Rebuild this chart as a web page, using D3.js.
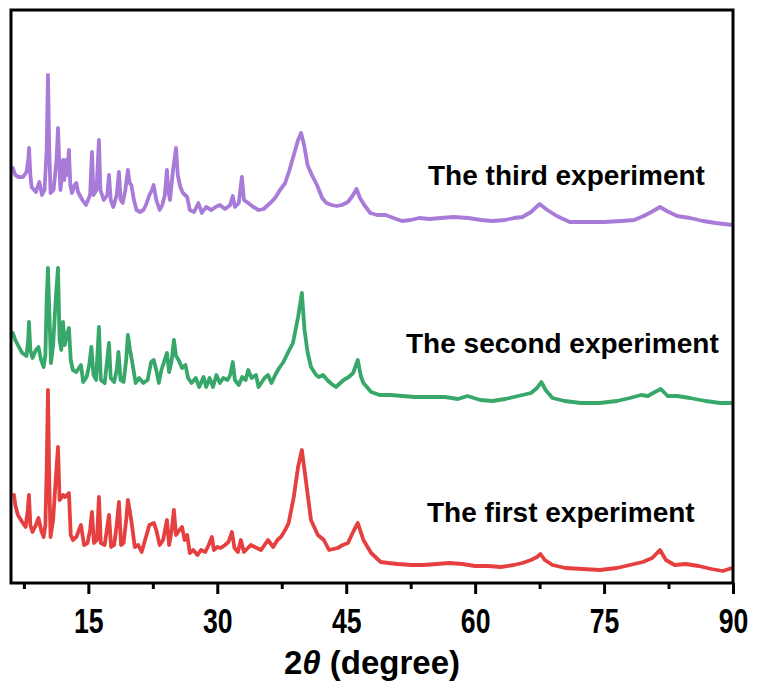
<!DOCTYPE html>
<html>
<head>
<meta charset="utf-8">
<script src="https://cdn.jsdelivr.net/npm/d3@7"></script>
<style>
  html, body { margin: 0; padding: 0; background: #fff; }
  svg { display: block; font-family: "Liberation Sans", Arial, sans-serif; }
</style>
</head>
<body>
<div id="chart"></div>
<script>
// 2theta (deg), intensity (a.u., offsets already applied)
const thirdExp = [
  [6.2,416],[6.5,409],[6.9,407],[7.4,407],[7.8,412],[8.0,424],[8.1,436],[8.25,409],[8.4,397],[8.9,392],
  [9.3,402],[9.6,389],[9.9,394],[10.15,434],[10.3,509],[10.45,434],[10.6,391],[10.95,394],[11.3,424],[11.47,456],
  [11.6,424],[11.75,394],[11.95,409],[12.05,424],[12.2,404],[12.4,424],[12.55,409],[12.74,434],[12.9,399],[13.1,391],
  [13.4,399],[13.6,401],[13.8,392],[14.3,384],[14.72,379],[15.2,389],[15.42,432],[15.6,389],[15.95,394],[16.23,444],
  [16.4,394],[16.8,384],[17.2,389],[17.4,409],[17.6,384],[17.9,377],[18.3,389],[18.56,412],[18.75,384],[19.0,381],
  [19.3,394],[19.6,414],[19.8,401],[20.0,399],[20.3,384],[20.6,374],[21.0,372],[21.4,374],[21.7,379],[22.1,389],
  [22.4,394],[22.6,399],[22.9,384],[23.3,374],[23.6,379],[23.9,389],[24.14,414],[24.3,394],[24.5,384],[24.85,414],
  [25.2,436],[25.4,409],[25.7,397],[26.0,391],[26.5,387],[26.8,374],[27.3,372],[27.8,381],[28.2,371],[28.7,377],
  [29.3,374],[29.8,377],[30.3,379],[30.9,375],[31.5,379],[31.8,388],[32.05,377],[32.5,381],[32.86,407],[33.1,384],
  [33.6,381],[34.2,377],[34.8,374],[35.4,375],[35.9,379],[36.3,382],[36.8,387],[37.3,394],[37.9,401],[38.4,414],
  [38.9,429],[39.4,444],[39.75,451],[40.1,439],[40.5,419],[41.0,409],[41.6,399],[42.2,386],[42.7,381],[43.3,379],
  [43.9,378],[44.5,379],[45.2,382],[45.8,389],[46.2,395],[46.6,386],[47.1,379],[47.8,371],[48.6,369],[49.6,369],
  [50.5,366],[51.5,363],[52.5,364],[53.5,366],[54.7,365],[56.0,366],[57.5,367],[59.2,366],[60.7,364],[62.0,363],
  [63.5,364],[64.5,366],[65.5,367],[66.5,372],[67.5,380],[68.4,374],[69.5,368],[71.0,362],[73.0,362],[75.0,362],
  [77.0,363],[78.5,364],[79.6,368],[80.5,372],[81.5,377],[82.3,373],[83.5,368],[85.0,366],[86.5,363],[88.0,361],
  [89.9,359]
];

const secondExp = [
  [6.2,251],[6.5,244],[6.8,239],[7.3,231],[7.8,228],[8.0,244],[8.09,262],[8.25,234],[8.5,226],[8.9,234],
  [9.2,237],[9.5,224],[9.8,217],[10.0,229],[10.15,284],[10.3,316],[10.45,274],[10.65,221],[10.9,239],[11.2,284],
  [11.47,316],[11.65,244],[11.85,234],[12.05,262],[12.25,239],[12.5,249],[12.74,256],[12.95,224],[13.2,214],[13.6,212],
  [13.9,216],[14.14,219],[14.4,202],[14.8,207],[15.1,219],[15.35,237],[15.6,209],[15.9,204],[16.23,257],[16.45,204],
  [16.9,201],[17.4,241],[17.6,206],[18.0,202],[18.3,214],[18.5,232],[18.75,204],[19.1,202],[19.4,224],[19.6,249],
  [19.85,234],[20.1,222],[20.5,201],[20.9,206],[21.4,201],[21.9,204],[22.3,222],[22.6,224],[22.9,214],[23.2,201],
  [23.5,214],[24.14,231],[24.4,212],[24.7,224],[24.95,244],[25.2,228],[25.5,224],[25.9,216],[26.3,219],[26.6,206],
  [27.0,201],[27.5,206],[27.9,197],[28.4,207],[28.7,197],[29.1,206],[29.5,197],[29.9,209],[30.3,201],[30.7,206],
  [31.2,204],[31.5,209],[31.8,222],[32.05,204],[32.5,199],[32.9,207],[33.3,204],[33.6,214],[34.0,206],[34.5,209],
  [34.8,197],[35.5,206],[35.9,209],[36.3,201],[36.8,210],[37.2,216],[37.7,222],[38.2,231],[38.8,241],[39.4,267],
  [39.84,291],[40.15,254],[40.5,232],[40.9,217],[41.5,209],[41.8,207],[42.3,209],[42.8,204],[43.3,200],[43.8,197],
  [44.7,204],[45.3,207],[45.8,211],[46.35,224],[46.7,208],[47.0,201],[47.9,192],[48.9,189],[50.2,189],[51.5,188],
  [53.0,187],[54.7,187],[56.5,187],[58.0,185],[59.1,188],[60.6,184],[62.0,183],[63.5,185],[64.5,187],[65.5,189],
  [66.5,191],[67.2,196],[67.7,202],[68.2,194],[69.0,186],[70.4,183],[72.3,181],[74.5,181],[76.5,183],[78.0,186],
  [79.3,189],[80.1,188],[80.7,191],[81.6,195],[82.4,188],[83.5,188],[85.0,186],[86.8,183],[88.5,181],[89.9,181]
];

const firstExp = [
  [6.35,89],[6.5,79],[6.8,69],[7.3,62],[7.7,57],[7.95,74],[8.09,89],[8.25,59],[8.5,52],[8.9,59],
  [9.2,66],[9.5,54],[9.8,47],[10.0,59],[10.15,114],[10.3,194],[10.45,104],[10.6,47],[10.9,64],[11.2,104],
  [11.47,137],[11.65,84],[11.85,86],[12.05,89],[12.3,87],[12.5,89],[12.74,91],[12.95,49],[13.2,44],[13.6,47],
  [14.14,59],[14.5,39],[14.9,41],[15.2,54],[15.42,72],[15.65,41],[16.0,44],[16.23,87],[16.45,41],[16.9,39],
  [17.4,69],[17.65,37],[18.0,39],[18.3,59],[18.56,82],[18.8,39],[19.1,41],[19.4,64],[19.6,84],[19.9,69],
  [20.1,57],[20.4,37],[20.8,39],[21.2,32],[21.6,44],[22.1,59],[22.63,61],[22.9,54],[23.3,39],[23.7,44],
  [24.14,64],[24.4,39],[24.7,54],[24.95,74],[25.2,49],[25.6,54],[25.9,57],[26.2,44],[26.5,49],[26.8,31],
  [27.2,34],[27.7,29],[28.1,34],[28.6,32],[29.0,39],[29.37,47],[29.6,34],[30.0,37],[30.4,36],[30.9,39],
  [31.3,42],[31.7,52],[32.0,36],[32.4,32],[32.74,44],[33.1,32],[33.9,39],[34.6,36],[35.1,34],[35.9,44],
  [36.5,37],[37.0,44],[37.4,47],[37.9,54],[38.3,61],[38.9,87],[39.4,117],[39.84,134],[40.3,104],[40.9,64],
  [41.7,49],[42.4,44],[43.0,34],[44.0,36],[44.6,39],[45.2,41],[45.8,52],[46.35,61],[47.0,44],[47.9,31],
  [49.0,22],[49.9,21],[51.0,20],[52.5,19],[54.0,19],[55.5,20],[57.0,21],[58.5,20],[60.0,18],[61.5,18],
  [63.0,17],[64.5,19],[65.5,21],[66.5,24],[67.2,27],[67.6,30],[68.1,24],[69.0,19],[70.5,16],[72.5,15],
  [74.5,14],[76.5,16],[78.0,19],[79.5,22],[80.6,26],[81.5,34],[82.2,24],[83.2,19],[84.5,20],[86.0,18],
  [87.5,15],[88.8,13],[89.9,16]
];

const seriesNames = ['The first experiment', 'The second experiment', 'The third experiment'];
const seriesColors = ['#e5403f', '#37a76a', '#a87bd9'];
const majorTicks = [15, 30, 45, 60, 75, 90];
const minorTicks = [7.5, 22.5, 37.5, 52.5, 67.5, 82.5];
const xDomain = [6, 90];
const yDomain = [0, 574];

class XrdChart {
  constructor(series) {
    this.series = series;
    this.width = 758;
    this.height = 686;
    this.plot = {left: 11, right: 733, top: 10, bottom: 583};
    // where the experiment names sit (left edge, baseline)
    this.labelPos = [[427, 522], [406, 353], [428, 185]];
  }

  draw() {
    this.svg = d3.select('#chart').append('svg')
        .attr('width', this.width)
        .attr('height', this.height);

    this.x = d3.scaleLinear().domain(xDomain).range([this.plot.left, this.plot.right]);
    this.y = d3.scaleLinear().domain(yDomain).range([584, 10]);

    this._drawLines();
    this._drawFrame();
    this._drawAxis();
    this._addLabels();
  }

  _drawLines() {
    let line = d3.line()
        .x(d => this.x(d[0]))
        .y(d => this.y(d[1]));

    this.svg.append('g')
        .selectAll('path')
        .data(this.series)
        .enter()
        .append('path')
        .attr('fill', 'none')
        .attr('stroke', (d, i) => seriesColors[i])
        .attr('stroke-width', 3.8)
        .attr('stroke-linejoin', 'round')
        .attr('stroke-linecap', 'round')
        .attr('d', d => line(d));
  }

  _drawFrame() {
    let p = this.plot;
    this.svg.append('rect')
        .attr('x', p.left)
        .attr('y', p.top)
        .attr('width', p.right - p.left)
        .attr('height', p.bottom - p.top)
        .attr('fill', 'none')
        .attr('stroke', '#000')
        .attr('stroke-width', 3);
  }

  _drawAxis() {
    let g = this.svg.append('g')
        .attr('transform', 'translate(0,' + this.plot.bottom + ')');

    let major = g.append('g')
        .call(d3.axisBottom(this.x).tickValues(majorTicks).tickSize(11).tickSizeOuter(0));
    let minor = g.append('g')
        .call(d3.axisBottom(this.x).tickValues(minorTicks).tickSize(6).tickSizeOuter(0).tickFormat(''));

    [major, minor].forEach(a => {
      a.select('.domain').remove();
      a.selectAll('line').attr('stroke', '#000').attr('stroke-width', 3);
    });

    major.selectAll('text')
        .attr('y', 50)
        .attr('dy', 0)
        .attr('fill', '#000')
        .attr('transform', 'scale(0.74,1)')
        .style('font-size', '36px')
        .style('font-weight', 'bold')
        .style('font-family', '"Liberation Sans", Arial, sans-serif');

    let title = this.svg.append('text')
        .attr('x', (this.plot.left + this.plot.right) / 2)
        .attr('y', 674)
        .attr('text-anchor', 'middle')
        .style('font-size', '33px')
        .style('font-weight', 'bold');
    title.append('tspan').text('2');
    title.append('tspan').style('font-style', 'italic').text('θ');
    title.append('tspan').text(' (degree)');
  }

  _addLabels() {
    this.svg.append('g')
        .selectAll('text')
        .data(seriesNames)
        .enter()
        .append('text')
        .attr('x', (d, i) => this.labelPos[i][0])
        .attr('y', (d, i) => this.labelPos[i][1])
        .style('font-size', '28px')
        .style('font-weight', 'bold')
        .attr('fill', '#000')
        .text(d => d);
  }
}

let chart = new XrdChart([firstExp, secondExp, thirdExp]);
chart.draw();
</script>
</body>
</html>
